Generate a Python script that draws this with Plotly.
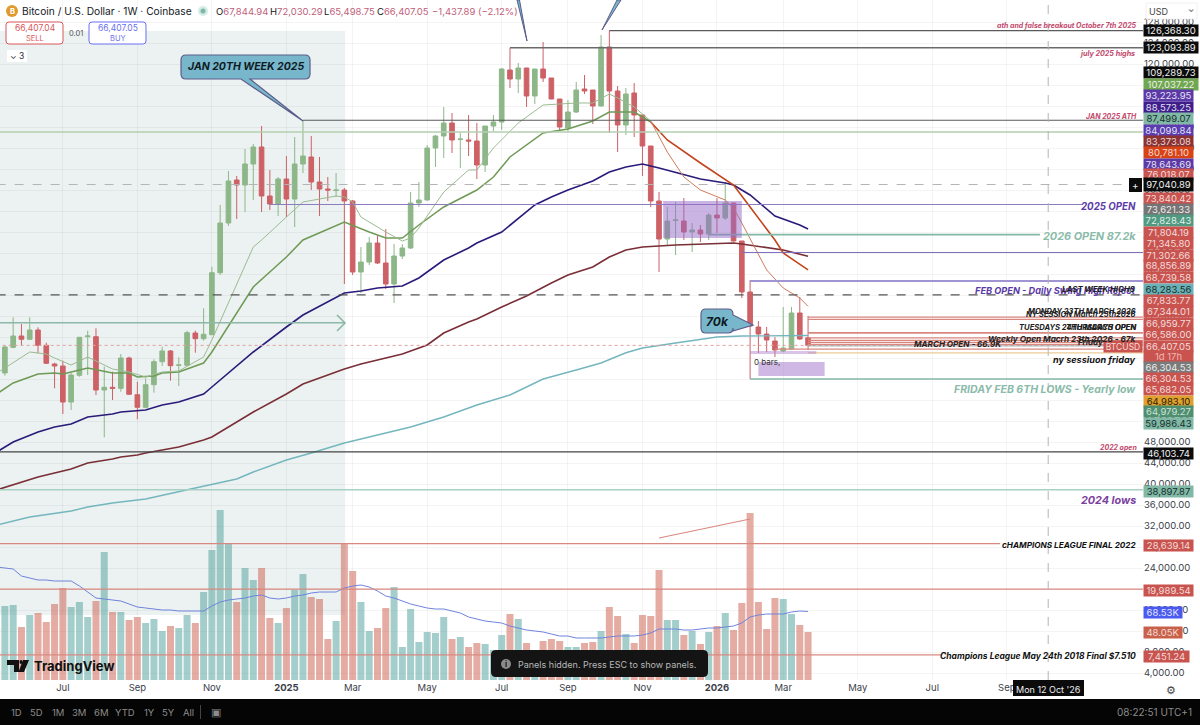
import pandas as pd
import plotly.graph_objects as go

# weekly bars, first one sits just off the left edge
FIRST_WEEK = pd.Timestamp("2024-05-06")
BAR_COUNT = 99
WEEKS = [FIRST_WEEK + pd.Timedelta(days=7 * i) for i in range(BAR_COUNT)]

OPEN = [63900, 61143, 66038, 68190, 67561, 69333, 66419, 62857, 62476, 55619,
        60705, 68057, 68057, 57904, 58419, 58228, 64000, 57009, 54610, 58914,
        63295, 65333, 62610, 62610, 68762, 67676, 68438, 80248, 89714, 97904,
        96952, 100952, 104190, 94857, 93333, 98095, 94285, 100952, 102285, 97523,
        96190, 95905, 96000, 93904, 80381, 82285, 85905, 82095, 78095, 83428,
        84952, 93523, 94095, 104000, 106285, 108761, 105619, 105523, 105333, 100761,
        108190, 108952, 118857, 117142, 119238, 113904, 119047, 117333, 113333, 107809,
        110857, 115238, 115047, 112000, 123238, 114857, 108380, 114476, 110285, 104381,
        93904, 86666, 90190, 90095, 88000, 88381, 87619, 91238, 90666, 93523,
        86285, 76571, 69905, 68571, 67238, 65333, 65714, 72571, 67844.94]
HIGH = [65500, 66476, 71752, 70476, 71752, 69847, 66914, 63104, 63486, 61200,
        67943, 69200, 69657, 62343, 61390, 64762, 64248, 59486, 60133, 63752,
        66152, 65524, 64133, 69200, 69200, 73467, 81390, 93142, 99619, 98666,
        103809, 104761, 108190, 99809, 98476, 102476, 106095, 109289.73, 106285, 102285,
        98476, 99238, 96381, 94095, 85143, 87047, 87428, 88571, 85714, 85714,
        95619, 97523, 104571, 106476, 111809, 110666, 106857, 110285, 108761, 108190,
        110285, 119238, 123093.89, 120190, 119238, 119047, 124190, 117333, 113333, 113142,
        116571, 117904, 115047, 125523, 126368.30, 115809, 115428, 116380, 110285, 104381,
        95619, 92762, 93714, 94476, 89714, 89333, 91619, 94476, 97523, 93523,
        86285, 78857, 71047, 69905, 68000, 73714, 73714, 75619, 72030.29]
LOW = [60200, 60630, 65847, 66419, 67428, 64895, 62857, 58228, 53333, 54095,
       60438, 60762, 56952, 48895, 56000, 57581, 56952, 52324, 54419, 57390,
       62476, 59676, 58666, 62476, 65009, 67295, 68381, 79809, 89142, 90476,
       91809, 94095, 91809, 92190, 91047, 90857, 88952, 99238, 96000, 91047,
       93904, 94666, 78095, 79809, 76381, 81714, 81905, 77143, 74476, 82857,
       84762, 92762, 94000, 100380, 102095, 103047, 100190, 102476, 98095, 99428,
       107238, 107428, 115428, 114476, 111809, 112380, 116571, 113300, 107238, 107047,
       110666, 114285, 108571, 111900, 106857, 103238, 106476, 106095, 98666, 92762,
       80381, 85333, 83619, 86476, 84190, 86095, 86476, 87809, 90285, 86200,
       75428, 59986.43, 64952, 65143, 64190, 65143, 65714, 67428, 65498.75]
CLOSE = [61480, 66095, 68190, 67561, 69333, 66419, 62990, 62476, 55619, 60762,
         67943, 68190, 57904, 58419, 58228, 64000, 57085, 54610, 58914, 63295,
         65333, 62533, 62667, 68819, 67676, 68514, 80248, 89714, 97714, 96952,
         100952, 104190, 94857, 93333, 98095, 94285, 100952, 102476, 97523, 96190,
         96000, 96000, 93904, 80381, 82285, 85905, 82095, 78095, 83428, 84952,
         93523, 94095, 104000, 106285, 108761, 105523, 105714, 105333, 100761, 108190,
         108952, 119047, 117142, 119238, 113904, 119047, 117333, 113333, 108000, 110857,
         115047, 114857, 112000, 123238, 114857, 108380, 114285, 110285, 104381, 93904,
         86666, 90095, 90285, 88000, 88381, 87619, 91238, 90666, 93523, 86285,
         76571, 70095, 68571, 67428, 65524, 65905, 72571, 67619, 66407.05]

# volume in thousands
VOLUME = [52, 74, 75, 53, 65, 67, 58, 76, 92, 73,
          78, 63, 79, 128, 68, 68, 60, 63, 57, 61,
          49, 54, 52, 65, 57, 88, 130, 170, 136, 78,
          112, 100, 112, 62, 57, 72, 90, 106, 83, 81,
          41, 59, 136, 109, 78, 49, 52, 72, 93, 33,
          71, 38, 48, 47, 63, 41, 43, 33, 37, 36,
          30, 45, 66, 61, 37, 30, 39, 41, 39, 33,
          33, 37, 38, 49, 73, 64, 46, 37, 65, 64,
          110, 60, 60, 45, 49, 36, 48, 54, 67, 50,
          77, 167, 78, 51, 82, 81, 66, 55, 48.05]
VOLUME_MA = [113, 112, 111, 104, 102, 100, 100, 99, 99, 99,
             94, 88, 82, 81, 80, 79, 76, 73, 72, 71,
             70, 70, 69, 69, 69, 69, 74, 78, 80, 81,
             82, 84, 85, 82, 81, 82, 84, 85, 87, 88,
             88, 88, 92, 94, 95, 93, 89, 84, 82, 79,
             76, 74, 72, 71, 71, 69, 67, 63, 61, 59,
             58, 57, 54, 52, 50, 49, 48, 46, 44, 44,
             42, 42, 42, 42, 43, 44, 44, 44, 45, 47,
             51, 51, 51, 50, 50, 51, 52, 52, 53, 54,
             57, 63, 65, 66, 66, 66, 68, 69, 68.53]

# moving averages read at the bars where they bend
FAST_BARS = [0, 1, 4, 6, 7, 9, 11, 14, 16, 18, 20, 22, 25, 26, 31, 32, 35, 37, 39, 41, 42, 43,
             44, 47, 49, 50, 51, 54, 57, 58, 60, 63, 66, 70, 72, 74, 75, 77, 79]
FAST_VALUES = [61143, 62095, 65143, 64762, 64000, 62667, 64190, 61905, 61333, 60381, 61333, 61524,
               64190, 67428, 85143, 86476, 90857, 93714, 94285, 94857, 94666, 93714,
               90857, 88000, 86285, 86857, 88762, 95619, 99809, 99809, 104000, 108761, 112190,
               112571, 112571, 114285, 113524, 111809, 109142]
FAST_DOWN_BARS = [79, 81, 83, 85, 88, 89, 90, 93, 95, 97, 98]
FAST_DOWN_VALUES = [109142, 103238, 98476, 96000, 94095, 92571, 89714, 80762, 77333, 75428, 73840.42]

SLOW_BARS = [0, 2, 5, 7, 8, 11, 14, 16, 17, 19, 20, 22, 25, 26, 31, 35, 37, 42, 45, 47, 49, 51,
             54, 58, 60, 62, 66, 69, 72, 74, 77, 79]
SLOW_VALUES = [57143, 59238, 60952, 61143, 60952, 62095, 61143, 61143, 60381, 60571, 61143, 61333,
               63047, 65143, 77524, 83238, 86476, 89905, 88000, 86857, 86857, 89333,
               92762, 96000, 98476, 102285, 106857, 107619, 109142, 110857, 110857, 108952]
SLOW_DOWN_BARS = [79, 81, 85, 88, 89, 91, 94, 95, 98]
SLOW_DOWN_VALUES = [108952, 105523, 101143, 97904, 96952, 92762, 86476, 84000, 80781.10]

NAVY_BARS = [0, 2, 5, 7, 9, 11, 14, 15, 18, 20, 22, 25, 26, 31, 35, 37, 42, 44, 46, 49, 51, 54,
             57, 58, 61, 65, 67, 69, 72, 74, 76, 78, 80, 83, 85, 88, 89, 91, 94, 97, 98]
NAVY_VALUES = [46095, 48000, 49905, 50857, 51429, 52762, 53333, 53714, 54095, 55048, 55619, 57143,
               58476, 65143, 69905, 72190, 76381, 76762, 77333, 77714, 79238, 82666,
               84952, 85905, 88000, 93142, 94666, 96000, 97714, 99428, 100380, 100952,
               100190, 98857, 98095, 97333, 96952, 95048, 91047, 89333, 88573.25]

MAROON_BARS = [0, 4, 5, 9, 11, 14, 15, 17, 18, 20, 22, 25, 26, 31, 35, 37, 42, 44, 46, 49, 52, 54,
               57, 58, 61, 64, 67, 69, 72, 74, 76, 78, 82, 89, 90, 93, 95, 98]
MAROON_VALUES = [38857, 40762, 41333, 42857, 44000, 44762, 45143, 45524, 45905, 46476, 47047, 48381,
                 48952, 53714, 57143, 59048, 61905, 62857, 63619, 64762, 66476, 68762,
                 70857, 71428, 73714, 75809, 78286, 79809, 81333, 83238, 84571, 85143,
                 85524, 85905, 85714, 84952, 84571, 83373.08]

TEAL_BARS = [0, 4, 9, 11, 14, 16, 18, 24, 29, 31, 35, 38, 42, 46, 50, 54, 58, 62, 66, 70, 73, 76,
             78, 82, 87, 90, 93, 98]
TEAL_VALUES = [32190, 33714, 34857, 35619, 36381, 36762, 37143, 39238, 40952, 42286, 44571, 45905,
               47810, 49333, 50857, 52762, 55048, 56952, 60000, 61714, 63047, 65000,
               65905, 66857, 68000, 68190, 68190, 68283.56]

# horizontal levels: price, first bar, last bar
LEVEL_PRICES = [126368.30, 123093.89, 109289.73, 107037.22, 97040.89, 93223.95, 87499.07, 84099.84,
                78643.69, 76018.07, 71804.19, 71345.80, 68856.89, 68739.58, 67833.77, 67344.01,
                66959.77, 66586.00, 66407.05, 66304.53, 65682.05, 64983.10, 59986.43, 46103.74,
                38897.87, 28639.14, 19989.54, 7451.24]
LEVEL_START = [74, 62, 37, 0, 0, 33, 86, 90, 91, 0, 98, 98, 98, 98, 98, 98, 98, 98, 0, 98, 94, 98, 91,
               0, 0, 0, 0, 0]
LEVEL_END = [138.5, 138.5, 138.5, 138.5, 138.5, 131.2, 126, 138.5, 138.5, 138.5, 138.5, 138.5, 138.5,
             138.5, 138.5, 138.5, 138.5, 138.5, 138.5, 138.5, 138.5, 138.5, 138.5, 138.5, 138.5, 121.2,
             138.5, 114.2]

TICK_WEEKS = [8, 17, 26, 35, 43, 52, 61, 69, 78, 87, 95, 104, 113, 122]
TICK_TEXT = ["Jul", "Sep", "Nov", "<b>2025</b>", "Mar", "May", "Jul", "Sep", "Nov", "<b>2026</b>",
             "Mar", "May", "Jul", "Sep"]
PRICE_TICKS = list(range(4000, 132000, 4000))

TOOLBAR_TEXT = ["1D", "5D", "1M", "3M", "6M", "YTD", "1Y", "5Y", "All"]
TOOLBAR_X = [16, 36, 58, 79, 101, 125, 149, 168, 188]

# (label, centre y, background, text colour)
TAGS = [
    ("126,368.30", 31, "#0b0b0b", "#f0f0f0"), ("123,093.89", 48, "#0b0b0b", "#f0f0f0"),
    ("109,289.73", 73, "#0b0b0b", "#f0f0f0"), ("107,037.22", 84, "#6fa84f", "#f0f0f0"),
    ("93,223.95", 95.5, "#5b3aa8", "#e4e0f0"), ("88,573.25", 107, "#3f1e8c", "#e4e0f0"),
    ("87,499.07", 118, "#82b8a6", "#12302a"), ("84,099.84", 130, "#5a3cb0", "#e4e0f0"),
    ("83,373.08", 141, "#8b3232", "#e8d8d8"), ("80,781.10", 152, "#d84315", "#f4dcd4"),
    ("78,643.69", 164, "#5b3aa8", "#e4e0f0"), ("76,018.07", 175, "#c9544f", "#f2dcdb"),
    ("97,040.89", 185, "#0b0b0b", "#f0f0f0"), ("73,840.42", 198, "#c9544f", "#f2dcdb"),
    ("73,621.33", 209, "#757575", "#eeeeee"), ("72,828.43", 221, "#4f9a80", "#e4f0ec"),
    ("71,804.19", 232, "#c9544f", "#f2dcdb"), ("71,345.80", 243.5, "#c9544f", "#f2dcdb"),
    ("71,302.66", 255, "#c9544f", "#f2dcdb"), ("68,856.89", 266, "#c9544f", "#f2dcdb"),
    ("68,739.58", 277.5, "#c9544f", "#f2dcdb"), ("68,283.56", 289, "#6cb0b8", "#12302a"),
    ("67,833.77", 300.5, "#c9544f", "#f2dcdb"), ("67,344.01", 312, "#c9544f", "#f2dcdb"),
    ("66,959.77", 323, "#c9544f", "#f2dcdb"), ("66,586.00", 334.5, "#c9544f", "#f2dcdb"),
    ("66,407.05", 346, "#c9544f", "#f2dcdb"), ("1d 17h", 356.5, "#c9544f", "#eeb8b4"),
    ("66,304.53", 367, "#7a7a7a", "#eeeeee"), ("66,304.53", 378, "#c9544f", "#f2dcdb"),
    ("65,682.05", 389.5, "#c9544f", "#f2dcdb"), ("64,983.10", 401, "#e0a030", "#2a2000"),
    ("64,979.27", 412, "#4e8f70", "#cfe0d8"), ("59,986.43", 423.5, "#82b8a6", "#12302a"),
    ("46,103.74", 453, "#0b0b0b", "#f0f0f0"), ("38,897.87", 491, "#82b8a6", "#12302a"),
    ("28,639.14", 545, "#c9544f", "#f2dcdb"), ("19,989.54", 590, "#c9544f", "#f2dcdb"),
    ("7,451.24", 656, "#c9544f", "#f2dcdb"),
]

# (text, right edge, y, size, colour)
NOTES = [
    ("ath and false breakout October 7th 2025", 1138, 26, 7, "#c2476a"),
    ("july 2025 highs", 1136, 54, 7.2, "#c2476a"),
    ("JAN 2025 ATH", 1138, 116, 7, "#c2476a"),
    ("2025 OPEN", 1137, 206, 9.7, "#5b3aa8"),
    ("2026 OPEN 87.2k", 1137, 236, 10.9, "#8bbbaa"),
    ("FEB OPEN - Daily Swing High Reject", 1137, 290, 9.2, "#5b3aa8"),
    ("LAST WEEK HIGHS", 1137, 289, 7.9, "#222222"),
    ("MONDAY 23TH MARCH 2026", 1137, 312, 7.5, "#222222"),
    ("NY SESSION March 25th2026", 1137, 314, 7.5, "#222222"),
    ("TUESDAYS 24TH MARCH OPEN", 1137, 327, 7.6, "#222222"),
    ("THURSDAYS OPEN", 1137, 327, 7.6, "#222222"),
    ("Weekly Open Macrh 23th 2026 - 67k", 1137, 339, 8.2, "#222222"),
    ("Friday", 1105, 342, 8, "#222222"),
    ("MARCH OPEN - 66.9K", 1003, 344, 8.1, "#222222"),
    ("ny sessiuon friday", 1137, 359, 9.1, "#111111"),
    ("FRIDAY FEB 6TH LOWS - Yearly low", 1137, 389, 10.5, "#8bbbaa"),
    ("2022 open", 1138, 447, 7, "#c2476a"),
    ("2024 lows", 1137, 500, 10.8, "#7b3fa0"),
    ("cHAMPIONS LEAGUE FINAL 2022", 1137, 545, 8.2, "#111111"),
    ("Champions League May 24th 2018 Final $7.510", 1137, 656, 8.5, "#111111"),
]

PLOT_W, PLOT_H = 1143, 680
FONT = "Inter"
GRID = "rgba(42,46,57,0.05)"


def px(x):
    return x / PLOT_W


def py(y):
    return 1 - y / PLOT_H


def week_at(bar):
    return FIRST_WEEK + pd.Timedelta(days=7 * bar)


def text(s, x, y, size=11, color="#131722", anchor="left", **kw):
    font = dict(family=FONT, size=size, color=color)
    for key in ("weight", "style"):
        if key in kw:
            font[key] = kw.pop(key)
    fig.add_annotation(x=px(x), y=py(y), xref="paper", yref="paper", text=s, showarrow=False,
                       xanchor=anchor, yanchor="middle", font=font, borderpad=0, **kw)


def rect(x0, y0, x1, y1, fill, line=None, width=1):
    fig.add_shape(type="rect", xref="paper", yref="paper", x0=px(x0), x1=px(x1), y0=py(y0), y1=py(y1),
                  fillcolor=fill, line=dict(color=line, width=width if line else 0))


def pt(x, y):
    return f"{px(x):.5f},{py(y):.5f}"


def rounded(x0, y0, x1, y1, r, tail=""):
    # outline runs clockwise; the tail points are put in on the edge it belongs to
    bottom_tail = right_tail = ""
    if tail and tail[0] == "bottom":
        bottom_tail = "".join(f"L{pt(*p)} " for p in tail[1])
    if tail and tail[0] == "right":
        right_tail = "".join(f"L{pt(*p)} " for p in tail[1])
    return (f"M{pt(x0 + r, y0)} L{pt(x1 - r, y0)} Q{pt(x1, y0)} {pt(x1, y0 + r)} {right_tail}"
            f"L{pt(x1, y1 - r)} Q{pt(x1, y1)} {pt(x1 - r, y1)} {bottom_tail}"
            f"L{pt(x0 + r, y1)} Q{pt(x0, y1)} {pt(x0, y1 - r)} L{pt(x0, y0 + r)} Q{pt(x0, y0)} {pt(x0 + r, y0)} Z")


def path(d, fill, line=None, width=1):
    fig.add_shape(type="path", xref="paper", yref="paper", path=d, fillcolor=fill,
                  line=dict(color=line, width=width if line else 0))


fig = go.Figure()

bar_colors = ["rgba(90,165,160,0.55)" if c >= o else "rgba(205,95,80,0.52)" for o, c in zip(OPEN, CLOSE)]
fig.add_trace(go.Bar(x=WEEKS, y=VOLUME, marker_color=bar_colors, marker_line_width=0,
                     width=7 / 8.28 * 604800000, yaxis="y", hoverinfo="skip"))
fig.add_trace(go.Scatter(x=WEEKS, y=VOLUME_MA, mode="lines", line=dict(color="#6f83dc", width=1),
                         yaxis="y", hoverinfo="skip"))

for bars, values, color, width in [
    (TEAL_BARS, TEAL_VALUES, "#74b6bd", 1.4),
    (MAROON_BARS, MAROON_VALUES, "#7a2e36", 1.6),
    (NAVY_BARS, NAVY_VALUES, "#2a1a7a", 1.6),
    (SLOW_BARS, SLOW_VALUES, "#6f9a55", 1.5),
    (FAST_BARS, FAST_VALUES, "#9cbb92", 1),
    (SLOW_DOWN_BARS, SLOW_DOWN_VALUES, "#c2451c", 1.6),
    (FAST_DOWN_BARS, FAST_DOWN_VALUES, "#d07a5c", 1),
]:
    fig.add_trace(go.Scatter(x=[week_at(b) for b in bars], y=values, mode="lines",
                             line=dict(color=color, width=width),
                             yaxis="y2", hoverinfo="skip"))

fig.add_trace(go.Candlestick(
    x=WEEKS, open=OPEN, high=HIGH, low=LOW, close=CLOSE, yaxis="y2", hoverinfo="skip",
    increasing=dict(line=dict(color="#8db788", width=1), fillcolor="#8db788"),
    decreasing=dict(line=dict(color="#cd6166", width=1), fillcolor="#cd6166"),
))

# shaded range behind the earlier part of the chart
fig.add_shape(type="rect", xref="x", yref="y2", x0=week_at(0), x1=week_at(42.1), y0=15048, y1=126285,
              fillcolor="#ebf2f1", line_width=0, layer="below")

level_styles = {
    0: ("#5a5a5a", 1.2, "solid"), 1: ("#6a6a6a", 1.6, "solid"), 2: ("#5a5a5a", 1.2, "solid"),
    3: ("#b5cfb0", 1.6, "solid"), 4: ("#b4b4b4", 1, "dash"), 5: ("#8e7cc3", 1.1, "solid"),
    6: ("#82b8a6", 1.6, "solid"), 7: ("#7e6bbe", 1, "solid"), 8: ("#a094d2", 2, "solid"),
    9: ("#555555", 1.2, "dash"), 18: ("#e4a0a0", 1, "dot"), 19: ("#a0a0a0", 1, "solid"),
    21: ("#eccb96", 1.2, "solid"), 22: ("#82b8a6", 1.6, "solid"), 23: ("#444444", 1.2, "solid"),
    24: ("#a9d0c4", 1.6, "solid"),
}
for i, price in enumerate(LEVEL_PRICES):
    color, width, dash = level_styles.get(i, ("#d98880", 1.2, "solid"))
    fig.add_shape(type="line", xref="x", yref="y2", x0=week_at(LEVEL_START[i]), x1=week_at(LEVEL_END[i]),
                  y0=price, y1=price, line=dict(color=color, width=width, dash=dash))

# consolidation boxes and drawn tools
fig.add_shape(type="rect", xref="x", yref="y2", x0=week_at(80.5), x1=week_at(90), y0=86860, y1=93900,
              fillcolor="rgba(150,105,200,0.5)", line_width=0)
fig.add_shape(type="rect", xref="x", yref="y2", x0=week_at(92), x1=week_at(100), y0=60560, y1=63240,
              fillcolor="rgba(170,125,205,0.55)", line_width=0)
fig.add_shape(type="rect", xref="x", yref="y2", x0=week_at(91), x1=week_at(99), y0=64760, y1=65330,
              fillcolor="rgba(170,125,205,0.45)", line_width=0)
fig.add_shape(type="line", xref="x", yref="y2", x0=week_at(80), x1=week_at(91), y0=29714, y1=33333,
              line=dict(color="#d98880", width=1.2))
fig.add_shape(type="line", xref="x", yref="y2", x0=week_at(0), x1=week_at(42), y0=70720, y1=70720,
              line=dict(color="#8db8a8", width=1.6))
path(f"M{pt(337, 315)} L{pt(345, 323)} L{pt(337, 331)}", "rgba(0,0,0,0)", "#8db8a8", 1.6)

# crosshair
fig.add_shape(type="line", xref="x", yref="paper", x0="2026-10-12", x1="2026-10-12", y0=0, y1=1,
              line=dict(color="#b4b4b4", width=1, dash="dash"))

fig.update_layout(
    width=1200, height=725, margin=dict(l=0, r=57, t=0, b=45),
    paper_bgcolor="white", plot_bgcolor="white", showlegend=False, barmode="overlay", boxgap=0.2,
    font=dict(family=FONT, size=10, color="#131722"),
    xaxis=dict(type="date", range=[week_at(0.41), week_at(138.45)], rangeslider_visible=False,
               tickmode="array", tickvals=[week_at(i) for i in TICK_WEEKS], ticktext=TICK_TEXT,
               ticklen=0, showline=False, zeroline=False, gridcolor=GRID, tickfont=dict(size=9.5, color="#3c3f4a")),
    yaxis=dict(range=[0, PLOT_H], visible=False, showgrid=False, zeroline=False),
    yaxis2=dict(overlaying="y", side="right", range=[2667, 132190], tickmode="array", tickvals=PRICE_TICKS,
                tickformat=",.2f", ticklen=0, showline=False, zeroline=False, gridcolor=GRID,
                tickfont=dict(size=9.5, color="#3c3f4a")),
)

# right-hand labels
for label, y, bg, fg in TAGS:
    wide = label.startswith("12") or label.startswith("10")
    width = 54 if wide else (45 if label == "7,451.24" else 49)
    fig.add_annotation(x=1, y=py(y), xref="paper", yref="paper", text=label, showarrow=False, xanchor="left",
                       yanchor="middle", width=width, height=11 if label != "97,040.89" else 13,
                       bgcolor=bg, borderpad=0, align="center", valign="middle",
                       font=dict(family=FONT, size=9.5, color=fg))
fig.add_annotation(x=1, y=py(612), xref="paper", yref="paper", text="68.53K", showarrow=False, xanchor="left",
                   yanchor="middle", width=38, height=11, bgcolor="#4a5af0", borderpad=0,
                   font=dict(family=FONT, size=9.5, color="#e4e6fc"))
fig.add_annotation(x=1, y=py(632), xref="paper", yref="paper", text="48.05K", showarrow=False, xanchor="left",
                   yanchor="middle", width=38, height=11, bgcolor="#c9614a", borderpad=0,
                   font=dict(family=FONT, size=9.5, color="#f2dcd6"))
fig.add_annotation(x=1, y=py(346), xref="paper", yref="paper", text="BTCUSD", showarrow=False, xanchor="right",
                   yanchor="middle", width=38, height=11, bgcolor="#c9544f", borderpad=0,
                   font=dict(family=FONT, size=8.5, color="#f2dcdb"))
rect(1129, 178, 1142, 192, "#0b0b0b")
text("+", 1135.5, 185, 10, "#eeeeee", "center")

for s, right, y, size, color in NOTES:
    text(s, right, y, size, color, "right", weight="bold", style="italic")
text("0 bars,", 753, 362, 8, "#333333")

# callouts
path(rounded(181, 55, 310, 79, 5, ("bottom", [(250, 79), (303, 121), (241, 79)])), "#78b6cc", "#5c5c8a", 1.2)
text("JAN 20TH WEEK 2025", 245.5, 67, 10.5, "#0d1b22", "center", weight="bold", style="italic")
path(rounded(701, 309, 733, 333, 5, ("right", [(733, 315), (753, 325), (733, 331)])), "#78b6cc", "#5c5c8a", 1.2)
text("70k", 718, 321, 12, "#0d1b22", "center", weight="bold", style="italic")
path(f"M{pt(517, 0)} L{pt(519.5, 0)} L{pt(527, 41)} Z", "#78b6cc", "#5c5c8a", 1)
path(f"M{pt(617, 0)} L{pt(621, 0)} L{pt(602, 30)} Z", "#78b6cc", "#5c5c8a", 1)

# header
fig.add_shape(type="circle", xref="paper", yref="paper", x0=px(6), x1=px(18), y0=py(5), y1=py(17),
              fillcolor="#e29a2e", line_width=0)
text("B", 12, 11, 7.5, "white", "center", weight="bold")
text("Bitcoin / U.S. Dollar · 1W · Coinbase", 21, 11, 10.2, "#131722")
fig.add_shape(type="circle", xref="paper", yref="paper", x0=px(198), x1=px(208), y0=py(6), y1=py(16),
              fillcolor="#d5ebe6", line_width=0)
fig.add_shape(type="circle", xref="paper", yref="paper", x0=px(200.5), x1=px(205.5), y0=py(8.5), y1=py(13.5),
              fillcolor="#7db8a5", line_width=0)
pink = "<span style='color:#c0607a'>"
text(f"O{pink}67,844.94</span>", 215, 11, 9.5)
text(f"H{pink}72,030.29</span>", 269, 11, 9.5)
text(f"L{pink}65,498.75</span>", 323, 11, 9.5)
text(f"C{pink}66,407.05</span>", 376, 11, 9.5)
text(f"{pink}−1,437.89 (−2.12%)</span>", 431, 11, 9.5)

path(rounded(6, 22, 63, 44, 3), "white", "#d9575a", 1)
text("66,407.04", 34.5, 28.5, 8.5, "#d9575a", "center")
text("SELL", 34.5, 38, 7.5, "#d9575a", "center")
path(rounded(89, 22, 146, 44, 3), "white", "#6a6ff0", 1)
text("66,407.05", 117.5, 28.5, 8.5, "#6a6ff0", "center")
text("BUY", 117.5, 38, 7.5, "#6a6ff0", "center")
text("0.01", 76, 33, 7.5, "#555555", "center")
rect(7, 50, 27, 62, "white")
text("⌄ 3", 17, 55.5, 8.5, "#333333", "center")

rect(1146, 3, 1197, 19, "white", "#eeeeee", 0.8)
text("USD", 1148, 11, 9, "#444444")
text("⌄", 1191, 9, 8, "#444444", "center")

# tradingview logo
path(f"M{pt(7, 660)} L{pt(19, 660)} L{pt(19, 672)} L{pt(14, 672)} L{pt(14, 665)} L{pt(7, 665)} Z", "#111111")
fig.add_shape(type="circle", xref="paper", yref="paper", x0=px(19.5), x1=px(22.5), y0=py(660), y1=py(664),
              fillcolor="#111111", line_width=0)
path(f"M{pt(23, 660)} L{pt(29, 660)} L{pt(24, 672)} L{pt(18.5, 672)} Z", "#111111")
text("TradingView", 33, 666, 13, "#111111", weight="bold")

# toast
path(rounded(491, 650, 708, 677, 5), "#141414")
fig.add_shape(type="circle", xref="paper", yref="paper", x0=px(501), x1=px(511), y0=py(659), y1=py(669),
              fillcolor="#8a8a8a", line_width=0)
text("i", 506, 664, 7.5, "#141414", "center", weight="bold")
text("Panels hidden. Press ESC to show panels.", 517, 664, 9, "#b8b8b8")

# bottom bar
rect(0, 699, 1200, 725, "#050505")
for label, x in zip(TOOLBAR_TEXT, TOOLBAR_X):
    text(label, x, 712, 9.5, "#8c8c8c", "center")
fig.add_shape(type="line", xref="paper", yref="paper", x0=px(200.5), x1=px(200.5), y0=py(705), y1=py(719),
              line=dict(color="#444444", width=1))
text("▣", 216, 712, 11, "#8c8c8c", "center")
text("08:22:51 UTC+1", 1193, 712, 10, "#8c8c8c", "right")

rect(1013, 680, 1084, 696, "#0b0b0b")
text("Mon 12 Oct '26", 1048.5, 689, 9, "#eeeeee", "center")
text("⚙", 1171, 690, 11, "#444444", "center")

fig.write_html("out.html", config={"displayModeBar": False},
               post_script="document.body.style.margin='0';document.body.style.overflow='hidden';")
